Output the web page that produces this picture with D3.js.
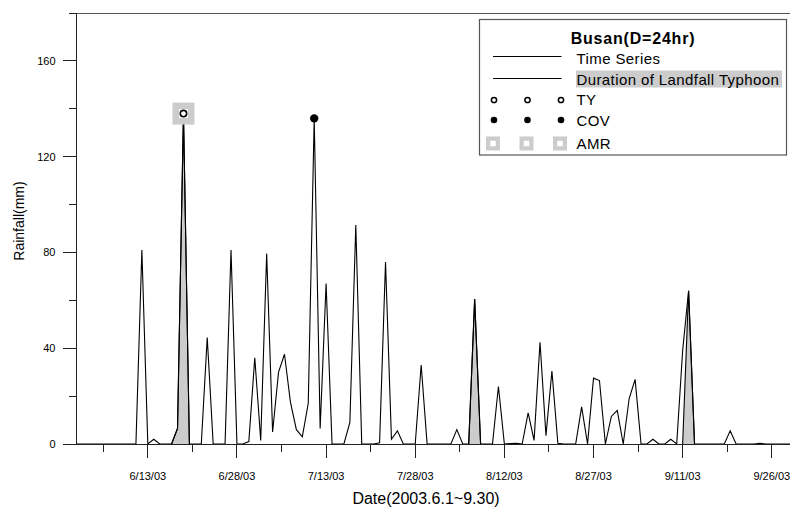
<!DOCTYPE html>
<html>
<head>
<meta charset="utf-8">
<script src="https://cdn.jsdelivr.net/npm/d3@7"></script>
<style>
  body { margin: 0; background: #fff; }
  svg { display: block; font-family: Arial, "Liberation Sans", sans-serif; }
</style>
</head>
<body>
<svg id="chart" width="790" height="513"></svg>
<script>
//
// Data
//

// daily rainfall (mm) at Busan, one value per day from 6/1/03 to 9/30/03
const startDate = "2003-06-01";
const rainfall = [
  0, 0, 0, 0, 0, 0, 0, 0, 0, 0,          // 6/1 - 6/10
  0, 81, 0, 2, 0, 0, 0, 6.5, 138, 0,     // 6/11 - 6/20
  0, 0, 44.5, 0, 0, 0, 81, 0, 0, 1,      // 6/21 - 6/30
  36, 1.5, 79.5, 5, 30, 37.5, 17.5, 6, 3, 17, // 7/1 - 7/10
  136, 6.5, 67, 0, 0, 0, 9, 91.5, 0, 0,  // 7/11 - 7/20
  0, 0.5, 76, 2, 5.5, 0, 0, 0, 33, 0,    // 7/21 - 7/30
  0, 0, 0, 0, 6, 0, 0, 60.5, 0, 0,       // 7/31 - 8/9
  0, 24, 0, 0.2, 0.3, 0, 13, 1.5, 42.5, 3.5, // 8/10 - 8/19
  30.5, 0.3, 0, 0, 0, 15.5, 0, 27.5, 26.5, 0, // 8/20 - 8/29
  11.5, 14, 0, 19, 27, 0, 0, 2, 0, 0,    // 8/30 - 9/8
  2, 0, 39, 64, 0, 0, 0, 0, 0, 0,        // 9/9 - 9/18
  5.5, 0, 0, 0, 0, 0.3, 0, 0, 0, 0,      // 9/19 - 9/28
  0, 0                                   // 9/29 - 9/30
];

// landfall typhoon periods (shaded)
const typhoonDates = [
  ["2003-06-17", "2003-06-18", "2003-06-19", "2003-06-20"],
  ["2003-08-06", "2003-08-07", "2003-08-08"],
  ["2003-09-11", "2003-09-12", "2003-09-13"]
];
const typhoonValues = [
  [0, 6.5, 138, 0],
  [0, 60.5, 0],
  [0, 64, 0]
];

// annual max events
const tyDates = ["2003-06-19"];
const covDates = ["2003-07-11"];
const amrDates = ["2003-06-19"];

// axes
const yMajorTicks = [0, 40, 80, 120, 160];
const yMinorTicks = [20, 60, 100, 140, 180];
const xTickLabels = ["6/13/03", "6/28/03", "7/13/03", "7/28/03", "8/12/03", "8/27/03", "9/11/03", "9/26/03"];

//
// Setup
//

const svg = d3.select("#chart");
const parseDay = d3.utcParse("%Y-%m-%d");
const parseTick = d3.utcParse("%m/%d/%y");
const t0 = parseDay(startDate);

const series = rainfall.map((v, i) => ({ date: d3.utcDay.offset(t0, i), v: v }));
const valueAt = s => series.find(d => +d.date === +parseDay(s)).v;

const x = d3.scaleUtc()
  .domain([t0, parseDay("2003-10-01")])
  .range([76.5, 801.5]);
const y = d3.scaleLinear().domain([0, 180]).range([444, 13]);

const axisColor = "#222";
const shade = "#cccccc";

//
// Typhoon shading + time series
//

const area = d3.area()
  .x(d => x(d.date))
  .y0(y(0))
  .y1(d => y(d.v));
const line = d3.line()
  .x(d => x(d.date))
  .y(d => y(d.v));

const typhoons = typhoonDates.map((ds, k) =>
  ds.map((s, i) => ({ date: parseDay(s), v: typhoonValues[k][i] })));

svg.append("g").selectAll("path")
  .data(typhoons)
  .join("path")
  .attr("d", area)
  .attr("fill", shade);

svg.append("path")
  .datum(series)
  .attr("d", line)
  .attr("fill", "none")
  .attr("stroke", "#000")
  .attr("stroke-width", 1.1);

svg.append("g").selectAll("path")
  .data(typhoons)
  .join("path")
  .attr("d", line)
  .attr("fill", "none")
  .attr("stroke", "#000")
  .attr("stroke-width", 1.1);

//
// Axes
//

const axes = svg.append("g")
  .attr("stroke", axisColor)
  .attr("shape-rendering", "crispEdges");

// frame lines
axes.append("line").attr("x1", x.range()[0]).attr("x2", x.range()[1])
  .attr("y1", y(0)).attr("y2", y(0));
axes.append("line").attr("x1", x.range()[0]).attr("x2", x.range()[1])
  .attr("y1", y(180)).attr("y2", y(180)).attr("stroke", "#555");
axes.append("line").attr("x1", x.range()[0]).attr("x2", x.range()[0])
  .attr("y1", y(0)).attr("y2", y(180));

// y ticks
axes.selectAll(".ymaj").data(yMajorTicks).join("line")
  .attr("x1", x.range()[0] - 14).attr("x2", x.range()[0])
  .attr("y1", d => y(d)).attr("y2", d => y(d));
axes.selectAll(".ymin").data(yMinorTicks).join("line")
  .attr("class", "ymin")
  .attr("x1", x.range()[0] - 8).attr("x2", x.range()[0])
  .attr("y1", d => y(d)).attr("y2", d => y(d));

svg.append("g").selectAll("text").data(yMajorTicks).join("text")
  .attr("x", x.range()[0] - 21)
  .attr("y", d => y(d) + 4)
  .attr("text-anchor", "end")
  .attr("font-size", 11)
  .text(d => d);

// x ticks: major every 15 days, minor halfway
const xMajor = xTickLabels.map(parseTick);
const halfStep = 7.5 * 864e5;
const xMinor = xMajor.map(d => new Date(+d - halfStep));

axes.selectAll(".xmaj").data(xMajor).join("line")
  .attr("class", "xmaj")
  .attr("x1", d => x(d)).attr("x2", d => x(d))
  .attr("y1", y(0)).attr("y2", y(0) + 14);
axes.selectAll(".xmin").data(xMinor).join("line")
  .attr("class", "xmin")
  .attr("x1", d => x(d)).attr("x2", d => x(d))
  .attr("y1", y(0)).attr("y2", y(0) + 8);

svg.append("g").selectAll("text").data(xMajor).join("text")
  .attr("x", d => x(d))
  .attr("y", y(0) + 36)
  .attr("text-anchor", "middle")
  .attr("font-size", 11)
  .text((d, i) => xTickLabels[i]);

// axis titles
svg.append("text")
  .attr("x", 426).attr("y", 504)
  .attr("text-anchor", "middle")
  .attr("font-size", 16)
  .text("Date(2003.6.1~9.30)");
svg.append("text")
  .attr("transform", "translate(24,221) rotate(-90)")
  .attr("text-anchor", "middle")
  .attr("font-size", 14)
  .text("Rainfall(mm)");

//
// Markers
//

function amrMark(g, cx, cy, outer, inner) {
  g.append("rect").attr("x", cx - outer / 2).attr("y", cy - outer / 2)
    .attr("width", outer).attr("height", outer).attr("fill", shade);
  g.append("rect").attr("x", cx - inner / 2).attr("y", cy - inner / 2)
    .attr("width", inner).attr("height", inner).attr("fill", "#fff");
}

const marks = svg.append("g");
amrDates.forEach(s => amrMark(marks, x(parseDay(s)), y(valueAt(s)), 22, 9));
marks.selectAll(".ty").data(tyDates).join("circle")
  .attr("class", "ty")
  .attr("cx", s => x(parseDay(s))).attr("cy", s => y(valueAt(s)))
  .attr("r", 3.2).attr("fill", "#fff").attr("stroke", "#000").attr("stroke-width", 1.6);
marks.selectAll(".cov").data(covDates).join("circle")
  .attr("class", "cov")
  .attr("cx", s => x(parseDay(s))).attr("cy", s => y(valueAt(s)))
  .attr("r", 4.2).attr("fill", "#000");

//
// Legend
//

const lg = svg.append("g");
lg.append("rect")
  .attr("x", 479.5).attr("y", 19.5).attr("width", 307).attr("height", 135.5)
  .attr("fill", "#fff").attr("stroke", "#555").attr("stroke-width", 1.2);

lg.append("text").attr("x", 633).attr("y", 43.5)
  .attr("text-anchor", "middle").attr("font-size", 16).attr("font-weight", "bold")
  .attr("letter-spacing", 0.8)
  .text("Busan(D=24hr)");

const lx0 = 493, lx1 = 561.5, tx = 576.5;
const itemFont = { "font-size": 15, "letter-spacing": 0.4 };
function legendText(label, ty) {
  const t = lg.append("text").attr("x", tx).attr("y", ty).text(label);
  Object.entries(itemFont).forEach(([k, v]) => t.attr(k, v));
}

lg.append("line").attr("x1", lx0).attr("x2", lx1).attr("y1", 56.5).attr("y2", 56.5)
  .attr("stroke", "#000");
legendText("Time Series", 63.5);

lg.append("line").attr("x1", lx0).attr("x2", lx1).attr("y1", 78.5).attr("y2", 78.5)
  .attr("stroke", "#000");
lg.append("rect").attr("x", 576).attr("y", 70.5).attr("width", 206).attr("height", 17)
  .attr("fill", shade);
legendText("Duration of Landfall Typhoon", 84.5);

const legendX = [494, 527.5, 561];
legendX.forEach(cx => {
  lg.append("circle").attr("cx", cx).attr("cy", 100).attr("r", 2.6)
    .attr("fill", "#fff").attr("stroke", "#000").attr("stroke-width", 1.5);
  lg.append("circle").attr("cx", cx).attr("cy", 120).attr("r", 3.3).attr("fill", "#000");
  amrMark(lg, cx - 1, 143.5, 14, 5.5);
});
legendText("TY", 105);
legendText("COV", 125.5);
legendText("AMR", 148.5);
</script>
</body>
</html>
